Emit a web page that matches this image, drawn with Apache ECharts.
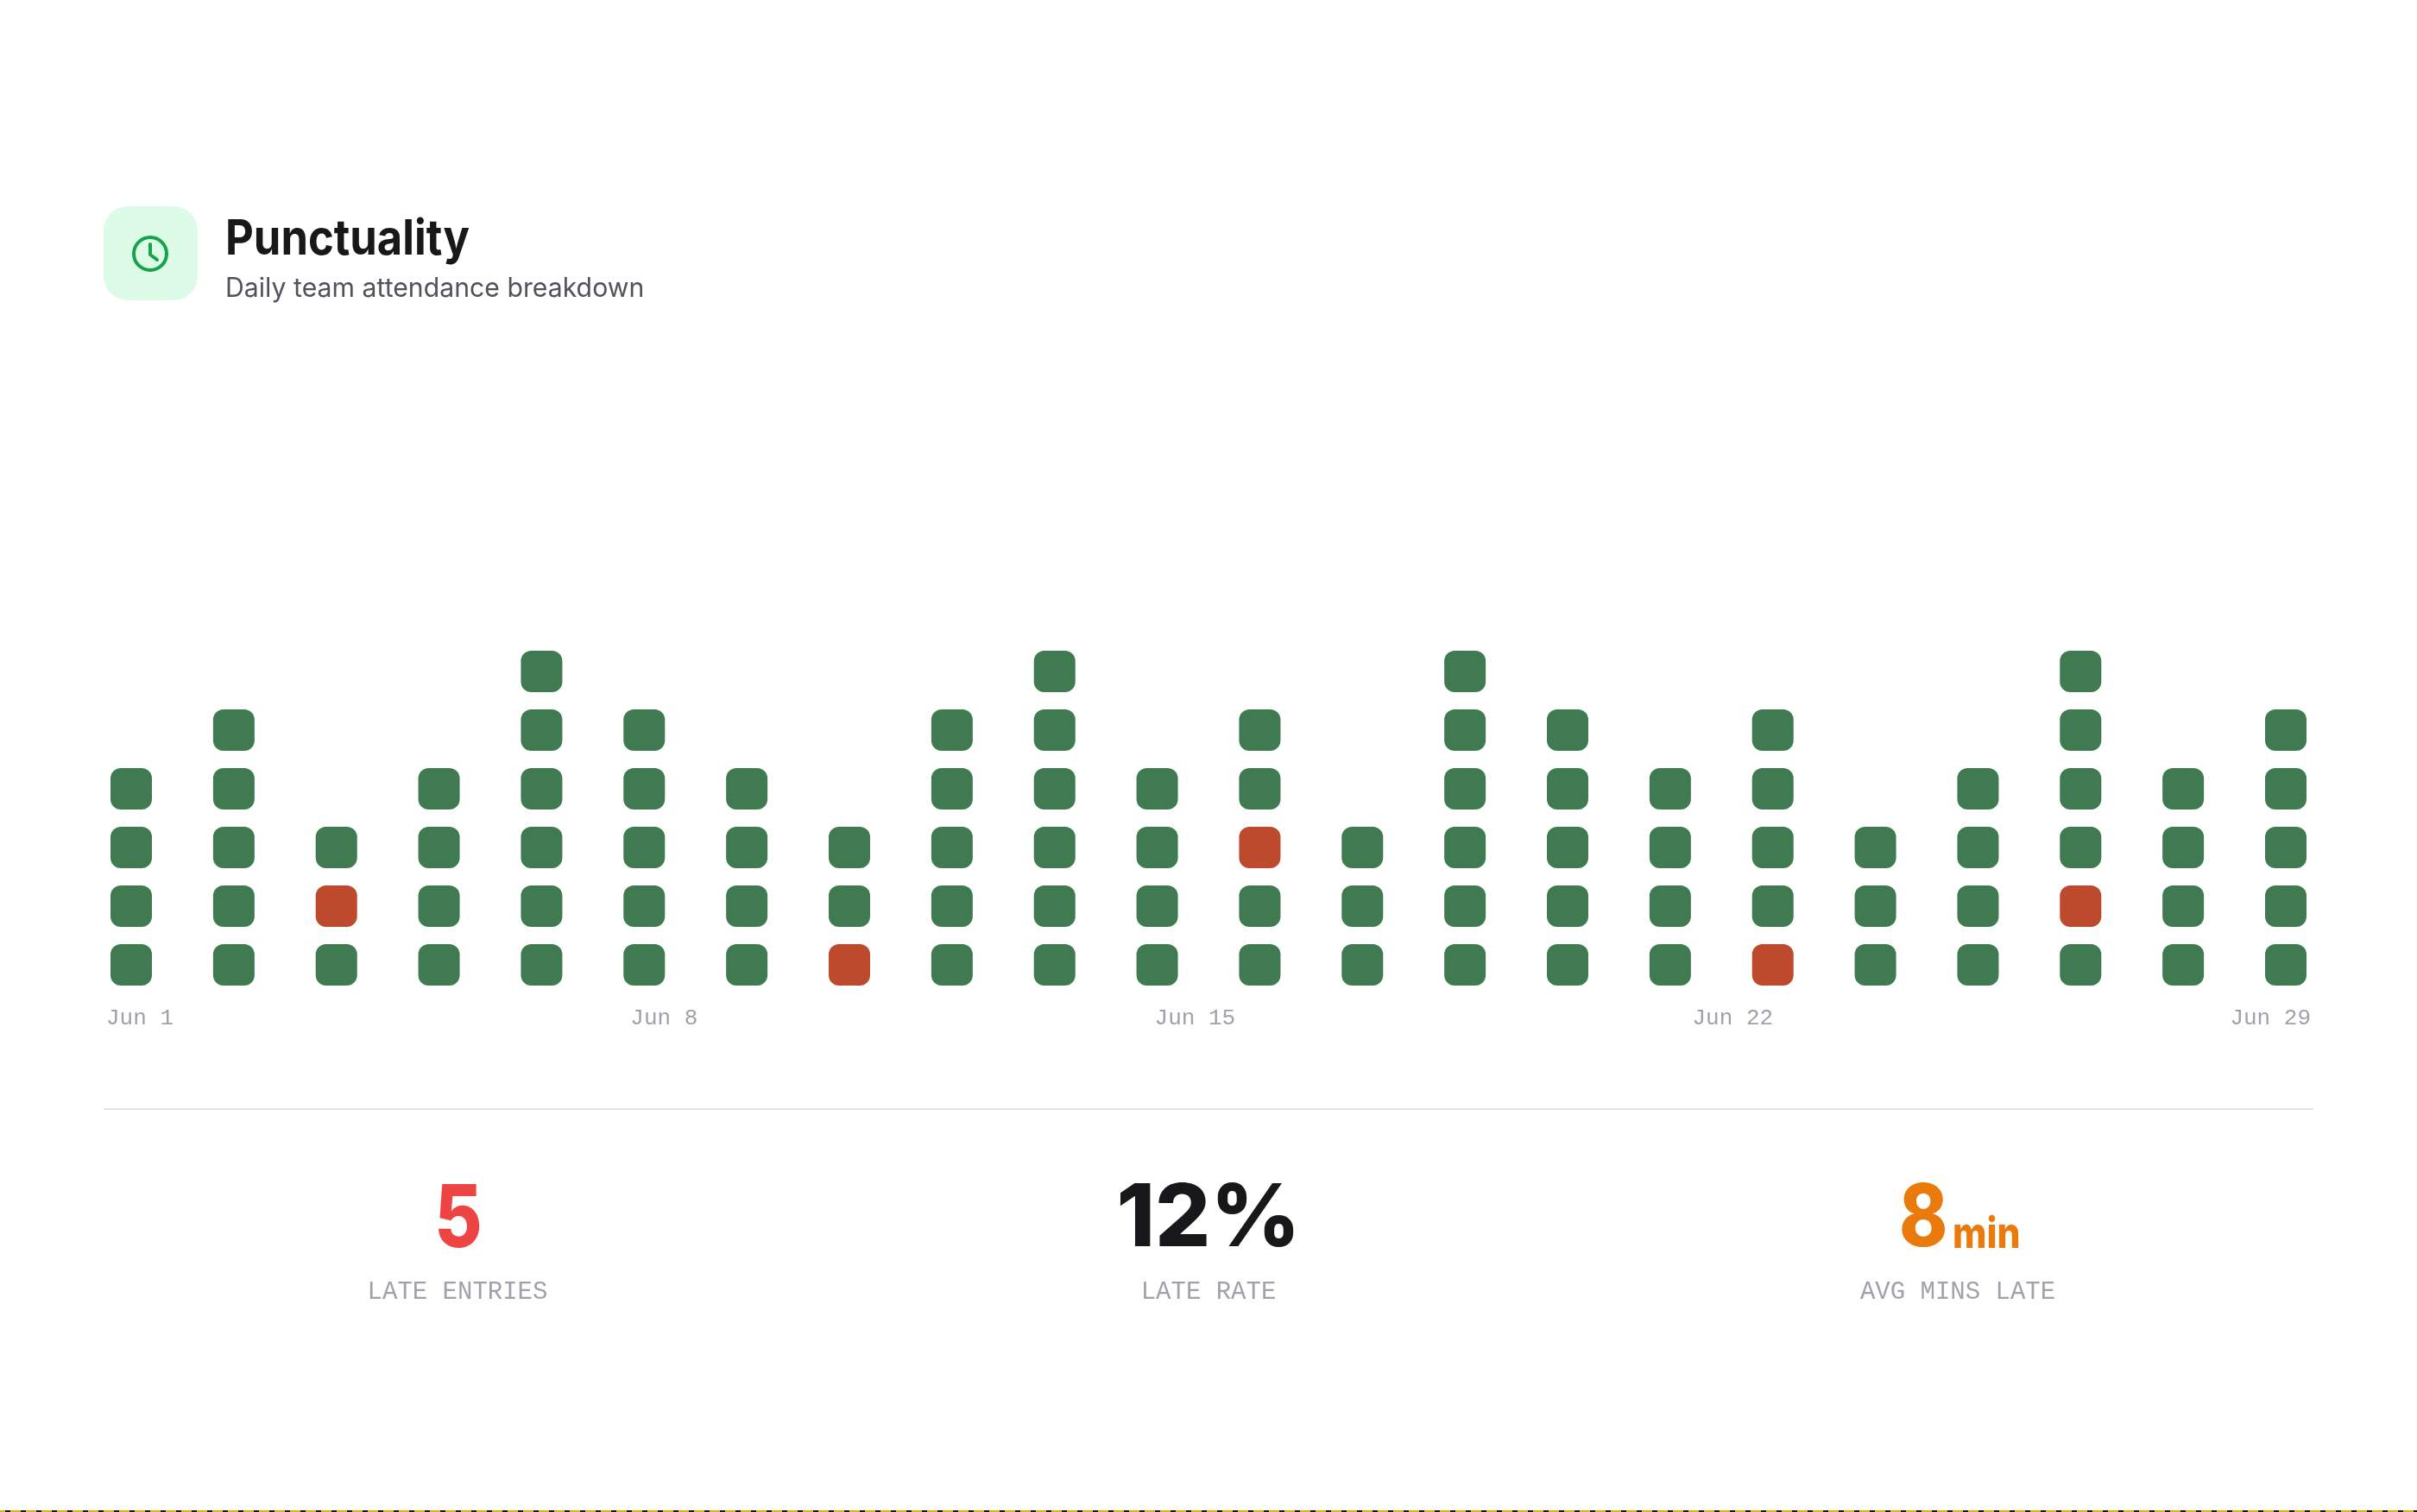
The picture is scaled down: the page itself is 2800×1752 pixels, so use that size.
<!DOCTYPE html>
<html><head><meta charset="utf-8">
<style>html,body{margin:0;padding:0;background:#fff}#c{width:2800px;height:1752px}</style>
<script src="https://cdn.jsdelivr.net/npm/echarts@6/dist/echarts.min.js"></script>
</head><body><div id="c"></div>
<script>
const days = ['Jun 1','Jun 2','Jun 3','Jun 4','Jun 5','Jun 8','Jun 9','Jun 10','Jun 11','Jun 12','Jun 15','Jun 16','Jun 17','Jun 18','Jun 19','Jun 22','Jun 23','Jun 24','Jun 25','Jun 26','Jun 29','Jun 30'];
const entries = [4,5,3,4,6,5,4,3,5,6,4,5,3,6,5,4,5,3,4,6,4,5];
const lateRow = [0,0,2,0,0,0,0,1,0,0,0,3,0,0,0,0,1,0,0,2,0,0];
const tickLabels = ['Jun 1','Jun 8','Jun 15','Jun 22','Jun 29'];
const statValues = ['5','12%','8'];
const statUnit = 'min';
const statLabels = ['LATE ENTRIES','LATE RATE','AVG MINS LATE'];

const GREEN='#3F7A50', RED='#BE4A2E';
const onTime=[], late=[];
days.forEach((d,i)=>{for(let r=1;r<=entries[i];r++){(r===lateRow[i]?late:onTime).push([d,r]);}});

const MONO='"Liberation Mono",monospace', SANS='Inter,sans-serif';
const tickFont=26, tickAdvance=15.6, L=123, R=2677;
const widths=tickLabels.map(t=>t.length*tickAdvance);
const gap=(R-L-widths.reduce((a,b)=>a+b,0))/(tickLabels.length-1);
let cur=L; const tickCenters=widths.map(w=>{const c=cur+w/2;cur+=w+gap;return c;});

function txt(text,x,y,size,weight,fill,family,align,sx){
  return {type:'text',x,y,scaleX:sx||1,silent:true,style:{text,fill,font:`${weight} ${size}px ${family}`,textAlign:align||'left',textVerticalAlign:'middle'}};
}
const graphic=[
  {type:'rect',shape:{x:120,y:239,width:109,height:109,r:28},style:{fill:'#DCFCE7'},silent:true},
  {type:'circle',shape:{cx:174,cy:294,r:19},style:{fill:'none',stroke:'#16A34A',lineWidth:4},silent:true},
  {type:'polyline',shape:{points:[[174,283],[174,295],[182,301]]},style:{fill:'none',stroke:'#16A34A',lineWidth:4,lineCap:'round',lineJoin:'round'},silent:true},
  txt('Punctuality',261,278,56,700,'#18181B',SANS,'left',0.905),
  txt('Daily team attendance breakdown',261,335,31,400,'#52525B',SANS,'left',0.975),
  {type:'rect',shape:{x:120,y:1284,width:2560,height:2},style:{fill:'#E4E4E7'},silent:true},
  txt(statValues[0],531,1415,100,800,'#EF4444',SANS,'center',0.85),
  txt(statValues[1],1400,1414,100,800,'#18181B',SANS,'center',1.01),
  txt(statValues[2],2200,1414,100,800,'#EA7A0C',SANS,'left',0.85),
  txt(statUnit,2262,1431,50,800,'#EA7A0C',SANS,'left',0.85),
  txt(statLabels[0],530,1497,29,400,'#A1A1AA',MONO,'center'),
  txt(statLabels[1],1400,1497,29,400,'#A1A1AA',MONO,'center'),
  txt(statLabels[2],2268,1497,29,400,'#A1A1AA',MONO,'center'),
  {type:'line',shape:{x1:0,y1:1751,x2:2800,y2:1751},style:{stroke:'#E0B21B',lineWidth:2},silent:true},
  {type:'line',shape:{x1:0,y1:1751,x2:2800,y2:1751},style:{stroke:'#1A1A1A',lineWidth:2,lineDash:[6,12],lineDashOffset:12},silent:true}
];

const chart=echarts.init(document.getElementById('c'),null,{renderer:'canvas'});
chart.setOption({
  animation:false,backgroundColor:'#fff',
  grid:[
    {left:152,width:2496,top:778,height:340},
    {left:L,width:R-L,top:778,height:364}
  ],
  xAxis:[
    {type:'category',gridIndex:0,data:days,boundaryGap:false,axisLine:{show:false},axisTick:{show:false},axisLabel:{show:false},splitLine:{show:false}},
    {type:'value',gridIndex:1,min:L,max:R,axisLine:{show:false},axisTick:{show:false},splitLine:{show:false},
     axisLabel:{customValues:tickCenters,margin:25,color:'#A1A1AA',fontFamily:MONO,fontSize:tickFont,
       formatter:(v)=>tickLabels[tickCenters.indexOf(v)]}}
  ],
  yAxis:[
    {type:'value',gridIndex:0,min:1,max:6,interval:1,show:false},
    {type:'value',gridIndex:1,min:0,max:1,show:false}
  ],
  series:[
    {name:'On time',type:'scatter',xAxisIndex:0,yAxisIndex:0,data:onTime,symbol:'roundRect',symbolSize:48,itemStyle:{color:GREEN,opacity:1},silent:true},
    {name:'Late',type:'scatter',xAxisIndex:0,yAxisIndex:0,data:late,symbol:'roundRect',symbolSize:48,itemStyle:{color:RED,opacity:1},silent:true}
  ],
  graphic:graphic
});
</script></body></html>
